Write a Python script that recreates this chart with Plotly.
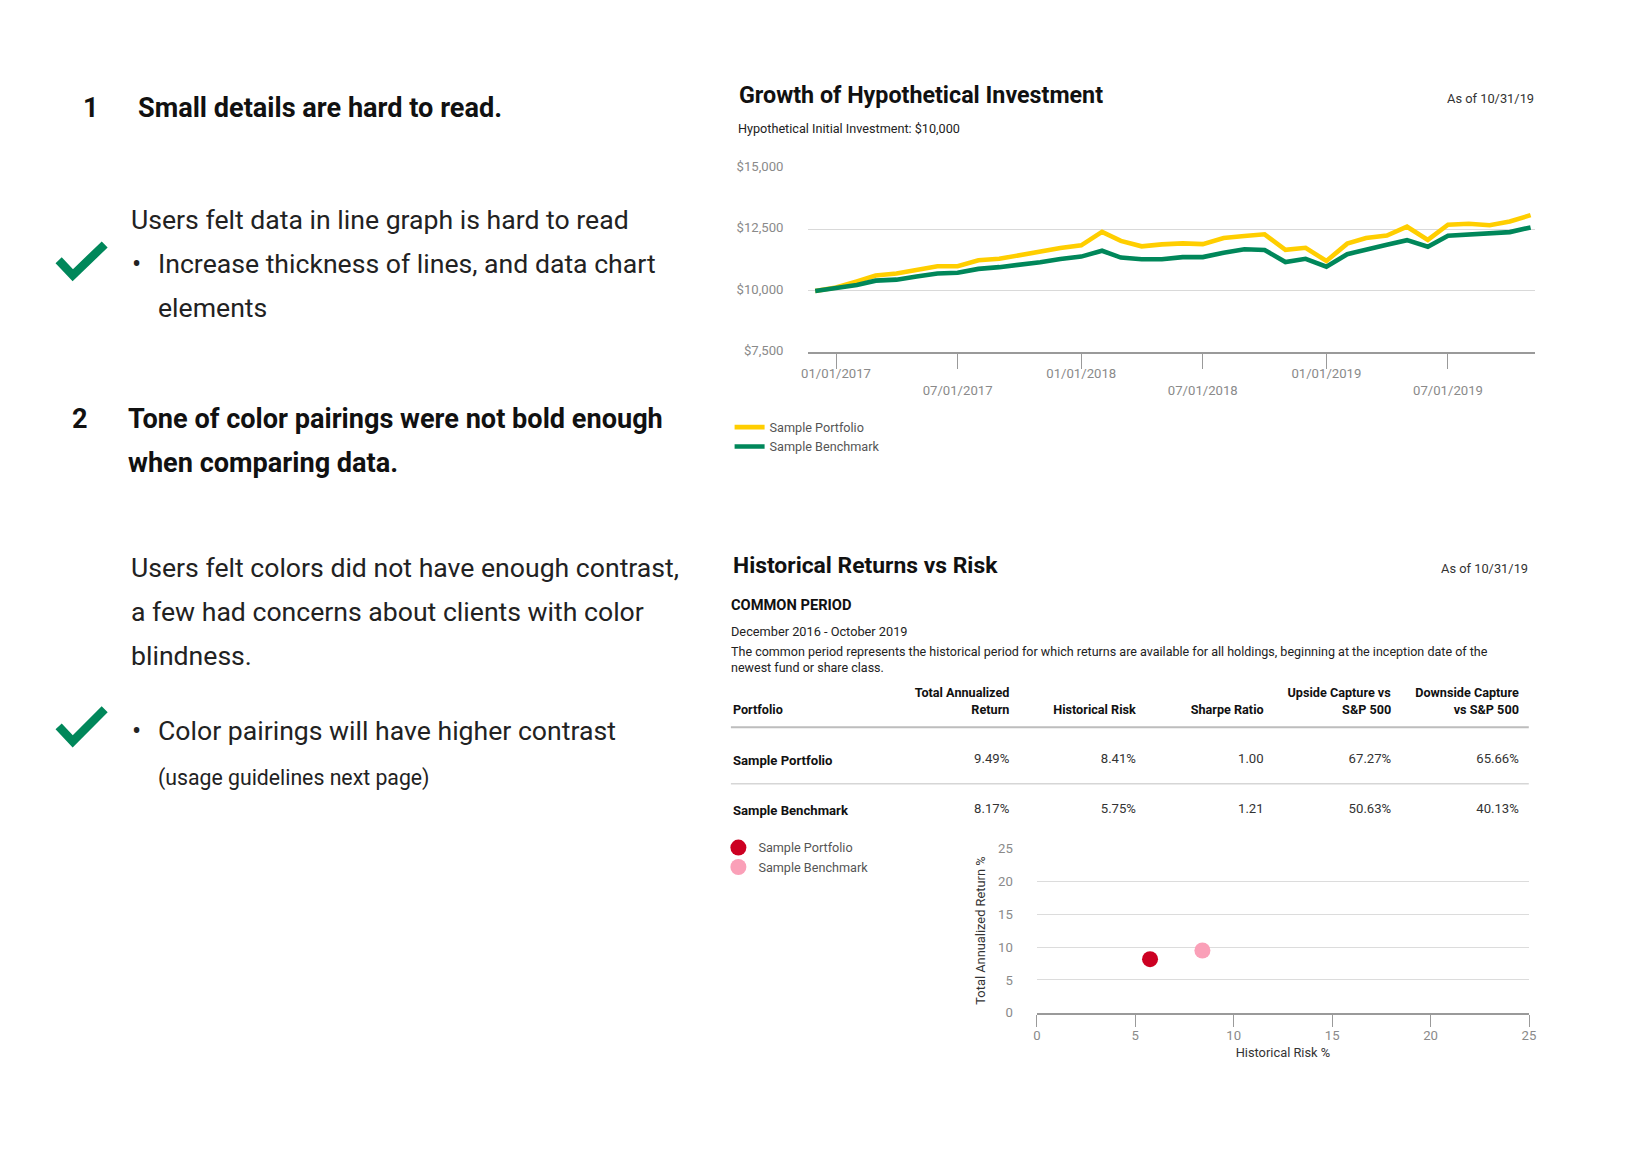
import plotly.graph_objects as go

W, H = 1640, 1160

# ---------------- data ----------------
months = [
    "2016-12-01", "2017-01-01", "2017-02-01", "2017-03-01", "2017-04-01", "2017-05-01",
    "2017-06-01", "2017-07-01", "2017-08-01", "2017-09-01", "2017-10-01", "2017-11-01",
    "2017-12-01", "2018-01-01", "2018-02-01", "2018-03-01", "2018-04-01", "2018-05-01",
    "2018-06-01", "2018-07-01", "2018-08-01", "2018-09-01", "2018-10-01", "2018-11-01",
    "2018-12-01", "2019-01-01", "2019-02-01", "2019-03-01", "2019-04-01", "2019-05-01",
    "2019-06-01", "2019-07-01", "2019-08-01", "2019-09-01", "2019-10-01", "2019-11-01",
]
portfolio_growth = [
    10000, 10140, 10390, 10630, 10710, 10870, 11010, 11010, 11250, 11310, 11470, 11620,
    11750, 11860, 12410, 12040, 11820, 11900, 11940, 11910, 12160, 12240, 12310, 11680,
    11760, 11220, 11930, 12160, 12260, 12620, 12080, 12700, 12740, 12680, 12830, 13090,
]
benchmark_growth = [
    10000, 10120, 10240, 10420, 10460, 10590, 10710, 10740, 10900, 10970, 11050, 11170,
    11300, 11400, 11640, 11360, 11290, 11290, 11380, 11380, 11560, 11700, 11670, 11180,
    11310, 10990, 11500, 11700, 11880, 12070, 11800, 12250, 12290, 12320, 12400, 12590,
]
date_ticks = ["2017-01-01", "2017-07-01", "2018-01-01", "2018-07-01", "2019-01-01", "2019-07-01"]
date_tick_labels = ["01/01/2017", "07/01/2017", "01/01/2018", "07/01/2018", "01/01/2019", "07/01/2019"]

header_line1 = ["", "Total Annualized", "", "", "Upside Capture vs", "Downside Capture"]
header_line2 = ["Portfolio", "Return", "Historical Risk", "Sharpe Ratio", "S&P 500", "vs S&P 500"]
table_names = ["Sample Portfolio", "Sample Benchmark"]
total_return = ["9.49%", "8.17%"]
hist_risk = ["8.41%", "5.75%"]
sharpe_ratio = ["1.00", "1.21"]
upside_capture = ["67.27%", "50.63%"]
downside_capture = ["65.66%", "40.13%"]

scatter_names = ["Sample Portfolio", "Sample Benchmark"]
scatter_risk = [5.75, 8.41]
scatter_return = [8.17, 9.49]
scatter_colors = ["#CC0022", "#FAA0B8"]

FONT = "Roboto"
FS = 1.012  # font scale


def X(v):
    return v / 0.99034 - 8


def Y(v):
    return v / 0.98639 - 8


def fx(v):
    return X(v) / W


def fy(v):
    return 1 - Y(v) / H


fig = go.Figure()

# ---------------- line chart ----------------
fig.add_trace(go.Scatter(x=months, y=portfolio_growth, mode="lines", name="Sample Portfolio",
                         line=dict(color="#FFCE00", width=4.6), xaxis="x", yaxis="y", legend="legend"))
fig.add_trace(go.Scatter(x=months, y=benchmark_growth, mode="lines", name="Sample Benchmark",
                         line=dict(color="#00875A", width=4.6), xaxis="x", yaxis="y", legend="legend"))

# ---------------- scatter ----------------
for n, rx, rt, c in zip(scatter_names, scatter_risk, scatter_return, scatter_colors):
    fig.add_trace(go.Scatter(x=[rx], y=[rt], mode="markers", name=n,
                             marker=dict(color=c, size=16), xaxis="x2", yaxis="y2", legend="legend2"))

# ---------------- table ----------------
col_align = ["left", "right", "right", "right", "right", "right"]
bounds = [725, 890, 1017.4, 1144, 1271.6, 1399.2, 1526.8]
col_widths = [X(b) - X(a) for a, b in zip(bounds[:-1], bounds[1:])]
clear = "rgba(0,0,0,0)"
tx0, tx1 = X(bounds[0]) / W, X(bounds[-1]) / W
TXT_OFF = 14.8
t1_top = Y(691.4) - TXT_OFF
t2_top = Y(708.1) - TXT_OFF
h2 = Y(758.4) - Y(708.1)
hc = Y(807.5) - Y(758.4)

fig.add_trace(go.Table(
    domain=dict(x=[tx0, tx1], y=[1 - (t1_top + 60) / H, 1 - t1_top / H]),
    columnwidth=col_widths,
    header=dict(values=[f"<b>{t}</b>" if t else "" for t in header_line1], align=col_align, height=30,
                font=dict(family=FONT, size=12.5 * FS, color="#111"),
                fill=dict(color=clear), line=dict(color=clear, width=0)),
    cells=dict(values=[[""] for _ in header_line1], height=20,
               fill=dict(color=clear), line=dict(color=clear, width=0)),
))
fig.add_trace(go.Table(
    domain=dict(x=[tx0, tx1], y=[1 - (t2_top + 200) / H, 1 - t2_top / H]),
    columnwidth=col_widths,
    header=dict(values=[f"<b>{t}</b>" for t in header_line2], align=col_align, height=h2,
                font=dict(family=FONT, size=12.5 * FS, color="#111"),
                fill=dict(color=clear), line=dict(color=clear, width=0)),
    cells=dict(values=[[f"<b>{n}</b>" for n in table_names], total_return, hist_risk,
                       sharpe_ratio, upside_capture, downside_capture],
               align=col_align, height=hc,
               font=dict(family=FONT, size=13 * FS, color=["#111", "#333", "#333", "#333", "#333", "#333"]),
               fill=dict(color=clear), line=dict(color=clear, width=0)),
))

# table rules
fig.add_shape(type="line", xref="paper", yref="paper", x0=fx(731), x1=fx(1528), y0=fy(727), y1=fy(727),
              line=dict(color="#BDBDBD", width=2))
fig.add_shape(type="line", xref="paper", yref="paper", x0=fx(731), x1=fx(1528), y0=fy(783.5), y1=fy(783.5),
              line=dict(color="#D6D6D6", width=1.5))

# checkmarks
for (ax, ay), (bx, by), (cx, cy) in [((59.5, 259.4), (73.6, 274.4), (105.5, 243.6)),
                                     ((59.5, 726.0), (73.6, 741.0), (105.5, 709.0))]:
    fig.add_shape(type="path", xref="paper", yref="paper",
                  path=f"M {fx(ax)} {fy(ay)} L {fx(bx)} {fy(by)} L {fx(cx)} {fy(cy)}",
                  line=dict(color="#00875A", width=8.5))


def add_text(text, x, y, size, color="#222", bold=False, xanchor="left"):
    dx = -2 if xanchor == "left" else 1.5
    fig.add_annotation(text=f"<b>{text}</b>" if bold else text, x=fx(x + dx), y=fy(y + 1.3),
                       xref="paper", yref="paper", xanchor=xanchor, yanchor="middle",
                       showarrow=False, font=dict(family=FONT, size=size * FS, color=color))


# left column
add_text("1", 83.9, 105.6, 26.8, "#111", True)
add_text("Small details are hard to read.", 139.1, 105.6, 26.8, "#111", True)
add_text("Users felt data in line graph is hard to read", 131.8, 217.6, 26.3)
add_text("•", 132.7, 261.5, 27)
add_text("Increase thickness of lines, and data chart", 159, 261.5, 26.3)
add_text("elements", 159, 305.4, 26.3)
add_text("2", 73.1, 417.4, 26.8, "#111", True)
add_text("Tone of color pairings were not bold enough", 128.7, 417.4, 26.8, "#111", True)
add_text("when comparing data.", 128.7, 461.3, 26.8, "#111", True)
add_text("Users felt colors did not have enough contrast,", 131.8, 565.9, 26.3)
add_text("a few had concerns about clients with color", 131.8, 609.8, 26.3)
add_text("blindness.", 131.8, 653.8, 26.3)
add_text("•", 132.7, 729, 27)
add_text("Color pairings will have higher contrast", 159, 729, 26.3)
add_text("(usage guidelines next page)", 159, 776, 21)

# right column texts
add_text("Growth of Hypothetical Investment", 739.5, 93.1, 23, "#111", True)
add_text("As of 10/31/19", 1533.4, 96.2, 12.7, "#333", xanchor="right")
add_text("Hypothetical Initial Investment: $10,000", 738.5, 126.6, 12.5, "#222")
add_text("Historical Returns vs Risk", 733.2, 563.8, 22.6, "#111", True)
add_text("As of 10/31/19", 1527.2, 567.0, 12.7, "#333", xanchor="right")
add_text("COMMON PERIOD", 731.2, 603.5, 14.5, "#111", True)
add_text("December 2016 - October 2019", 731.2, 629.7, 12.6, "#222")
add_text("The common period represents the historical period for which returns are available for all holdings, "
         "beginning at the inception date of the", 731.2, 649.6, 12.4, "#222")
add_text("newest fund or share class.", 731.2, 665.3, 12.4, "#222")

tick_text = [("<br>" + t) if i % 2 else t for i, t in enumerate(date_tick_labels)]

fig.update_layout(
    width=W, height=H, margin=dict(l=0, r=0, t=0, b=0),
    paper_bgcolor="white", plot_bgcolor="white",
    font=dict(family=FONT, color="#222"),
    showlegend=True,
    xaxis=dict(domain=[fx(808.5), fx(1534.5)], anchor="y", type="date",
               range=["2016-11-21", "2019-11-08"], tickmode="array", tickvals=date_ticks, ticktext=tick_text,
               tickangle=0, ticks="outside", ticklen=15, tickcolor="#9a9a9a", tickwidth=1,
               ticklabelstandoff=-7,
               showgrid=False, zeroline=False, showline=True, linecolor="#9a9a9a", linewidth=1.5,
               tickfont=dict(family=FONT, size=13 * FS, color="#8a8a8a"), fixedrange=True),
    yaxis=dict(domain=[fy(351.5), fy(167.15)], anchor="x", range=[7500, 15010], tick0=7500, dtick=2500,
               tickprefix="$", tickformat=",", showgrid=True, gridcolor="#d9d9d9", gridwidth=1.2,
               zeroline=False, showline=False, ticklabelstandoff=24, ticklabelshift=-2,
               tickfont=dict(family=FONT, size=13 * FS, color="#8a8a8a"), fixedrange=True),
    xaxis2=dict(domain=[fx(1036.6), fx(1528.2)], anchor="y2", range=[0, 25], dtick=5,
                ticks="outside", ticklen=12, tickcolor="#9a9a9a", showline=True, linecolor="#9a9a9a",
                linewidth=1.5, showgrid=False, zeroline=False, ticklabelstandoff=-2,
                tickfont=dict(family=FONT, size=13 * FS, color="#8a8a8a"),
                title=dict(text="Historical Risk %", font=dict(family=FONT, size=12.7 * FS, color="#333"),
                           standoff=6),
                fixedrange=True),
    yaxis2=dict(domain=[fy(1012.8), fy(847.97)], anchor="x2", range=[0, 25.05], tick0=0, dtick=5,
                showgrid=True, gridcolor="#dcdcdc", gridwidth=1.2, zeroline=False, showline=False,
                ticklabelstandoff=23, tickfont=dict(family=FONT, size=13 * FS, color="#8a8a8a"),
                title=dict(text="Total Annualized Return %", font=dict(family=FONT, size=12.7 * FS, color="#333"),
                           standoff=9),
                fixedrange=True),
    legend=dict(x=fx(729.7), y=fy(411.7), xanchor="left", yanchor="top", bgcolor="rgba(0,0,0,0)",
                font=dict(family=FONT, size=12.5 * FS, color="#555"), tracegroupgap=0),
    legend2=dict(x=fx(718.5), y=fy(832.6), xanchor="left", yanchor="top", bgcolor="rgba(0,0,0,0)",
                 font=dict(family=FONT, size=12.5 * FS, color="#555"), tracegroupgap=0),
)

fig.write_html("out.html", config={"displayModeBar": False},
               post_script="document.body.style.margin='0';document.documentElement.style.overflow='hidden';")
